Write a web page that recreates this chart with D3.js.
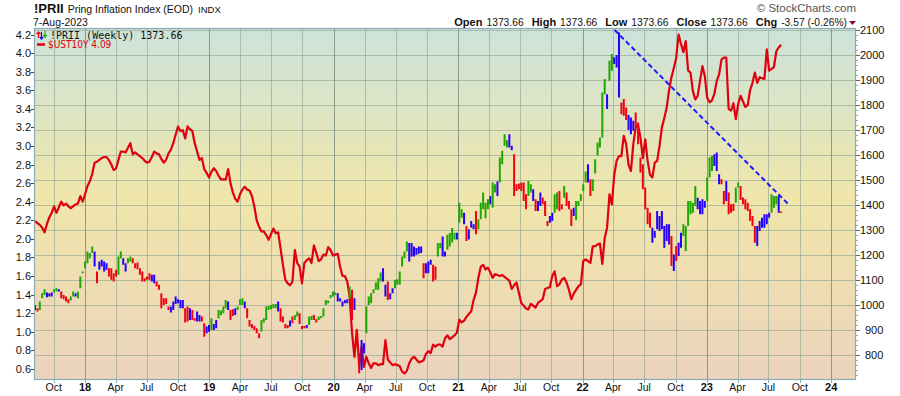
<!DOCTYPE html>
<html>
<head>
<meta charset="utf-8">
<script src="https://cdn.jsdelivr.net/npm/d3@7"></script>
<style>
  body { margin: 0; background: #fff; }
  svg { display: block; font-family: "Liberation Sans", Arial, sans-serif; }
</style>
</head>
<body>
<svg id="chart" width="900" height="396"></svg>
<script>
// weekly bars of !PRII, first week below, one entry per week
const firstWeek = "2017-08-07";
const prLo = [
  980,974,980,1027,1040,1031,1034,1034,1050,1054,
  1054,1027,1023,1014,1007,1018,1034,1034,1027,1067,
  1127,1147,1167,1187,1208,1154,1087,1141,1154,1134,
  1141,1114,1101,1094,1114,1121,1187,1161,1134,1167,
  1174,1167,1147,1143,1121,1094,1094,1101,1101,1094,
  1087,1074,1061,987,1000,1004,980,970,980,1004,
  1007,987,987,930,934,940,940,937,934,934,
  934,873,887,893,900,900,907,947,960,967,
  987,980,940,956,960,980,1000,1000,987,947,
  914,907,900,887,867,894,930,940,980,983,
  987,987,974,934,930,907,907,914,927,940,
  954,924,903,907,907,920,940,940,930,940,
  947,954,1000,1007,1027,1034,1040,1014,1014,994,
  1007,1007,1027,940,980,860,727,740,807,887,
  1000,1007,1047,1061,1061,1094,1094,1034,1020,1023,
  1047,1067,1081,1081,1154,1187,1214,1174,1194,1194,
  1201,1205,1208,1107,1127,1127,1161,1094,1101,1194,
  1227,1194,1194,1221,1234,1250,1262,1262,1329,1349,
  1323,1256,1262,1309,1303,1283,1303,1343,1383,1347,
  1383,1403,1389,1450,1436,1490,1563,1637,1630,1630,
  1619,1436,1456,1463,1456,1416,1383,1436,1450,1416,
  1376,1376,1396,1403,1356,1316,1329,1336,1369,1383,
  1376,1383,1429,1396,1383,1316,1356,1339,1396,1416,
  1456,1490,1490,1436,1456,1526,1597,1630,1670,1843,
  1784,1897,1937,1964,1950,1830,1763,1757,1740,1700,
  1683,1697,1710,1643,1530,1463,1383,1323,1309,1249,
  1269,1303,1296,1303,1229,1256,1242,1156,1136,1176,
  1196,1229,1276,1216,1316,1363,1369,1396,1383,1363,
  1363,1389,1416,1510,1536,1556,1536,1483,1483,1403,
  1416,1363,1369,1376,1409,1470,1420,1403,1383,1376,
  1336,1316,1249,1236,1296,1309,1309,1323,1349,1369,
  1389,1403,1369,1373
];
const prHi = [
  1000,987,1014,1047,1063,1050,1047,1050,1063,1067,
  1063,1054,1040,1034,1023,1034,1054,1047,1054,1114,
  1134,1174,1214,1208,1234,1214,1134,1174,1181,1174,
  1167,1147,1147,1127,1141,1194,1214,1187,1167,1187,
  1194,1187,1167,1170,1147,1134,1107,1114,1127,1121,
  1121,1094,1081,1047,1027,1027,994,994,1014,1034,
  1023,1020,1020,987,994,987,980,947,974,960,
  954,927,914,920,947,924,940,980,978,994,
  1020,1014,980,983,987,994,1023,1027,1014,987,
  940,924,916,907,887,940,947,994,996,1000,
  1004,1004,1014,987,954,924,920,938,954,960,
  974,967,916,916,920,954,956,960,943,954,
  956,987,1020,1018,1040,1054,1050,1047,1027,1014,
  1020,1023,1074,1061,1027,900,793,860,847,994,
  1034,1047,1063,1090,1107,1130,1147,1081,1094,1047,
  1067,1101,1103,1134,1194,1214,1254,1248,1248,1234,
  1228,1234,1234,1167,1167,1174,1181,1161,1154,1248,
  1248,1274,1214,1281,1288,1308,1289,1289,1409,1383,
  1369,1316,1303,1336,1323,1376,1343,1409,1450,1409,
  1423,1436,1490,1483,1494,1590,1617,1683,1659,1683,
  1637,1603,1483,1486,1490,1490,1443,1496,1483,1463,
  1423,1416,1450,1430,1416,1336,1356,1369,1443,1450,
  1456,1403,1476,1450,1416,1383,1389,1416,1416,1443,
  1483,1534,1563,1503,1503,1583,1650,1670,1850,1904,
  1843,1977,2004,1991,2000,2090,1810,1824,1790,1760,
  1750,1737,1770,1730,1590,1563,1470,1389,1369,1309,
  1296,1376,1356,1376,1316,1323,1323,1276,1202,1236,
  1249,1289,1323,1316,1416,1416,1409,1476,1429,1416,
  1423,1416,1510,1590,1597,1603,1610,1523,1503,1456,
  1496,1450,1403,1405,1470,1490,1476,1430,1423,1409,
  1383,1356,1316,1316,1336,1349,1363,1363,1369,1443,
  1436,1436,1436,1374
];
// G = green, R = red, B = blue (one letter per week)
const prColor =
  "BRGGGBBBGG" + "BRRRRGGBGG" + "GGGGGBRBBB" + "BRRRRGGBBG" + "GRRRRRRRRB" +
  "BRRRRRRBBB" + "BBBRRBRRBB" + "RRBBGBBGGG" + "GBRRBGGGBR" + "RRRRRGGGGG" +
  "GGBRRRRBRG" + "GRRRBGGRRG" + "GGGGGGGBBB" + "BBGRBRRBBG" + "GGGGGGBBRB" +
  "BGGGGGGBBB" + "BBBRBBBRRG" + "GBBGGGGBGG" + "BRBBBRGGGG" + "GBGGBGGGGB" +
  "BRRRRRRGGB" + "RBBRRRBBGG" + "RRGRRRBGGG" + "GGBRGGGGGG" + "BGGBBBRRRB" +
  "BBRRRRRRRB" + "BBBBBBBRBR" + "BBGGGGGGBB" + "BBGGGBBBRR" + "BRRRGGRRRR" +
  "RRRBBBBBBG" + "GGBR";

// $UST10Y, same weeks
const ust = [
  2.19,2.17,2.15,2.12,2.07,2.16,2.23,2.28,2.35,2.28,
  2.34,2.40,2.36,2.38,2.35,2.33,2.35,2.37,2.38,2.46,
  2.40,2.48,2.57,2.62,2.70,2.82,2.83,2.85,2.87,2.88,
  2.88,2.85,2.80,2.74,2.76,2.85,2.94,2.94,2.93,2.98,
  3.03,2.91,2.93,2.91,2.89,2.87,2.84,2.82,2.83,2.88,
  2.94,2.92,2.91,2.86,2.82,2.85,2.92,2.96,3.03,3.12,
  3.21,3.16,3.17,3.08,3.21,3.18,3.16,3.03,2.94,2.85,
  2.87,2.75,2.71,2.66,2.72,2.76,2.73,2.68,2.64,2.64,
  2.64,2.75,2.60,2.50,2.43,2.40,2.48,2.53,2.56,2.53,
  2.52,2.46,2.35,2.20,2.13,2.08,2.08,2.04,1.99,2.05,
  2.11,2.06,2.07,1.90,1.72,1.56,1.52,1.50,1.54,1.88,
  1.74,1.70,1.52,1.74,1.77,1.79,1.74,1.93,1.85,1.76,
  1.78,1.83,1.82,1.91,1.88,1.82,1.83,1.84,1.70,1.60,
  1.60,1.54,1.38,0.99,0.73,1.02,0.63,0.84,0.62,0.73,
  0.66,0.61,0.66,0.66,0.64,0.65,0.65,0.91,0.70,0.67,
  0.64,0.65,0.64,0.63,0.57,0.55,0.58,0.66,0.71,0.73,
  0.70,0.67,0.68,0.69,0.76,0.79,0.77,0.86,0.84,0.86,
  0.86,0.84,0.93,0.96,0.92,0.94,0.96,0.99,1.13,1.10,
  1.12,1.16,1.19,1.22,1.34,1.42,1.58,1.70,1.72,1.67,
  1.69,1.64,1.58,1.62,1.61,1.60,1.61,1.59,1.57,1.55,
  1.46,1.50,1.53,1.42,1.31,1.28,1.25,1.24,1.30,1.28,
  1.26,1.31,1.33,1.35,1.46,1.47,1.48,1.60,1.65,1.49,
  1.51,1.56,1.58,1.53,1.45,1.35,1.41,1.45,1.49,1.51,
  1.76,1.78,1.76,1.74,1.92,1.92,1.94,1.95,1.73,2.01,
  2.12,2.48,2.37,2.69,2.84,2.89,2.89,3.11,3.02,2.80,
  2.73,3.02,3.20,3.23,3.09,2.87,3.07,2.84,2.69,2.66,
  2.82,2.84,3.00,3.20,3.30,3.41,3.60,3.74,3.84,3.95,
  4.20,4.10,4.01,4.13,3.81,3.79,3.59,3.50,3.54,3.70,
  3.86,3.75,3.52,3.47,3.49,3.56,3.70,3.77,3.93,3.95,
  3.95,3.40,3.38,3.46,3.29,3.45,3.54,3.48,3.42,3.44,
  3.60,3.68,3.79,3.68,3.74,3.73,3.72,4.04,3.81,3.83,
  3.85,4.02,4.06,4.09
];

// dashed trend line on !PRII
const trendDates = ["2022-04-05", "2023-08-27"];
const trendValues = [2100, 1405];

const rightTicks = [800, 900, 1000, 1100, 1200, 1300, 1400, 1500, 1600, 1700, 1800, 1900, 2000, 2100];
const leftTicks = [0.6, 0.8, 1.0, 1.2, 1.4, 1.6, 1.8, 2.0, 2.2, 2.4, 2.6, 2.8, 3.0, 3.2, 3.4, 3.6, 3.8, 4.0, 4.2];
const xTickStart = "2017-10-01";
const xTickLabels = ["Oct","18","Apr","Jul","Oct","19","Apr","Jul","Oct","20","Apr","Jul","Oct",
                     "21","Apr","Jul","Oct","22","Apr","Jul","Oct","23","Apr","Jul","Oct","24"];

const parse = d3.timeParse("%Y-%m-%d");
const svg = d3.select("#chart");

const L = 34, R = 856, T = 28, B = 380;

const x = d3.scaleTime()
    .domain([parse("2017-08-04"), parse("2024-03-14")])
    .range([L, R]);
const yR = d3.scaleLinear().domain([700, 2108]).range([B, T]);
const yL = d3.scaleLinear().domain([0.48, 4.27]).range([B, T]);

const week0 = parse(firstWeek);
const weekDate = i => d3.timeWeek.offset(week0, i);

// background gradient
const defs = svg.append("defs");
const grad = defs.append("linearGradient")
    .attr("id", "bg").attr("x1", 0).attr("y1", 0).attr("x2", 0).attr("y2", 1);
grad.append("stop").attr("offset", "0%").attr("stop-color", "#cce3db");
grad.append("stop").attr("offset", "48%").attr("stop-color", "#f0e6aa");
grad.append("stop").attr("offset", "100%").attr("stop-color", "#ecd3bd");

svg.append("rect")
    .attr("x", L).attr("y", T)
    .attr("width", R - L).attr("height", B - T)
    .attr("fill", "url(#bg)");

// grid
const xTicks = xTickLabels.map((lab, i) => ({ date: d3.timeMonth.offset(parse(xTickStart), 3 * i), lab }));

svg.append("g").selectAll("line")
    .data(rightTicks)
    .join("line")
    .attr("x1", L).attr("x2", R)
    .attr("y1", d => Math.round(yR(d)) + 0.5).attr("y2", d => Math.round(yR(d)) + 0.5)
    .attr("stroke", "#9aa996").attr("stroke-opacity", 0.7).attr("stroke-width", 1);

svg.append("g").selectAll("line")
    .data(xTicks)
    .join("line")
    .attr("x1", d => Math.round(x(d.date)) + 0.5).attr("x2", d => Math.round(x(d.date)) + 0.5)
    .attr("y1", T).attr("y2", B)
    .attr("stroke", d => /^\d/.test(d.lab) ? "#7f9481" : "#9aa996")
    .attr("stroke-opacity", d => /^\d/.test(d.lab) ? 0.9 : 0.7)
    .attr("stroke-width", 1);

// $UST10Y line
const ustLine = d3.line()
    .x((d, i) => x(weekDate(i)))
    .y(d => yL(d));

svg.append("path")
    .datum(ust)
    .attr("d", ustLine)
    .attr("fill", "none")
    .attr("stroke", "#e0000e")
    .attr("stroke-width", 2.2)
    .attr("stroke-linejoin", "round");

// !PRII weekly bars
const barColor = { G: "#1ca800", R: "#f5000f", B: "#2400ff" };
svg.append("g").selectAll("rect")
    .data(prLo.map((lo, i) => ({ i, lo, hi: prHi[i], c: prColor[i] })))
    .join("rect")
    .attr("x", d => x(weekDate(d.i)) - 1)
    .attr("width", 2)
    .attr("y", d => yR(d.hi))
    .attr("height", d => Math.max(1.5, yR(d.lo) - yR(d.hi)))
    .attr("fill", d => barColor[d.c]);

// trend line
svg.append("line")
    .attr("x1", x(parse(trendDates[0]))).attr("y1", yR(trendValues[0]))
    .attr("x2", x(parse(trendDates[1]))).attr("y2", yR(trendValues[1]))
    .attr("stroke", "#1a1aff")
    .attr("stroke-width", 2)
    .attr("stroke-dasharray", "5,3");

// frame
svg.append("rect")
    .attr("x", L + 0.5).attr("y", T + 0.5)
    .attr("width", R - L - 1).attr("height", B - T - 1)
    .attr("fill", "none")
    .attr("stroke", "#8aaab2")
    .attr("stroke-width", 1.2);

// right axis
const gR = svg.append("g");
gR.selectAll("line.minor")
    .data(d3.range(720, 2101, 20))
    .join("line")
    .attr("x1", R).attr("x2", R + 2)
    .attr("y1", d => Math.round(yR(d)) + 0.5).attr("y2", d => Math.round(yR(d)) + 0.5)
    .attr("stroke", "#8aaab2");
gR.selectAll("line.major")
    .data(rightTicks)
    .join("line")
    .attr("x1", R).attr("x2", R + 4)
    .attr("y1", d => Math.round(yR(d)) + 0.5).attr("y2", d => Math.round(yR(d)) + 0.5)
    .attr("stroke", "#666");
gR.selectAll("text")
    .data(rightTicks)
    .join("text")
    .attr("x", d => d < 1000 ? 865 : 860)
    .attr("y", d => yR(d) + 4)
    .attr("font-size", 11)
    .attr("fill", "#111")
    .text(d => d);

// left axis
const gL = svg.append("g");
gL.selectAll("line")
    .data(leftTicks)
    .join("line")
    .attr("x1", L - 3).attr("x2", L)
    .attr("y1", d => Math.round(yL(d)) + 0.5).attr("y2", d => Math.round(yL(d)) + 0.5)
    .attr("stroke", "#444");
gL.selectAll("text")
    .data(leftTicks)
    .join("text")
    .attr("x", L - 3)
    .attr("y", d => yL(d) + 4)
    .attr("text-anchor", "end")
    .attr("font-size", 11)
    .attr("fill", "#111")
    .text(d => d.toFixed(1));

// bottom axis
const gB = svg.append("g");
gB.selectAll("line")
    .data(xTicks)
    .join("line")
    .attr("x1", d => Math.round(x(d.date)) + 0.5).attr("x2", d => Math.round(x(d.date)) + 0.5)
    .attr("y1", B).attr("y2", B + 3)
    .attr("stroke", "#8aaab2");
gB.selectAll("text")
    .data(xTicks)
    .join("text")
    .attr("x", d => x(d.date))
    .attr("y", 391)
    .attr("text-anchor", "middle")
    .attr("font-size", d => /^\d/.test(d.lab) ? 11 : 10.5)
    .attr("font-weight", d => /^\d/.test(d.lab) ? "bold" : "normal")
    .attr("fill", "#111")
    .text(d => d.lab);

// header
const title = svg.append("text").attr("x", 34).attr("y", 13).attr("fill", "#111");
title.append("tspan").attr("font-size", 13).attr("font-weight", "bold").text("!PRII");
title.append("tspan").attr("font-size", 10.5).attr("dx", 4).text("Pring Inflation Index (EOD)");
title.append("tspan").attr("font-size", 9.5).attr("dx", 5).text("INDX");

svg.append("text").attr("x", 33).attr("y", 26)
    .attr("font-size", 10.5).attr("fill", "#111").text("7-Aug-2023");

svg.append("text").attr("x", 856).attr("y", 12)
    .attr("text-anchor", "end").attr("font-size", 11.5).attr("fill", "#555")
    .text("\u00a9 StockCharts.com");

const quote = [["Open", "1373.66"], ["High", "1373.66"], ["Low", "1373.66"], ["Close", "1373.66"], ["Chg", "-3.57 (-0.26%)"]];
const qt = svg.append("text").attr("x", 847).attr("y", 26)
    .attr("text-anchor", "end").attr("fill", "#111");
quote.forEach(([k, v], i) => {
    qt.append("tspan").attr("font-weight", "bold").attr("font-size", 11).attr("dx", i ? 8 : 0).text(k);
    qt.append("tspan").attr("font-size", 10.3).attr("dx", 4).text(v);
});
svg.append("path")
    .attr("d", "M849,21 L856,21 L852.5,25 Z")
    .attr("fill", "#8b0a2a");

// legend
const lg = svg.append("g");
lg.append("path").attr("d", "M38.5,32 V38 M36.5,34 L38.5,32 L40.5,34").attr("stroke", "#f5000f").attr("stroke-width", 1.2).attr("fill", "none");
lg.append("path").attr("d", "M41.5,32 V39 M39.8,37 L41.5,39 L43.2,37").attr("stroke", "#2400ff").attr("stroke-width", 1.2).attr("fill", "none");
lg.append("path").attr("d", "M45,31 V37 M43.3,35 L45,37 L46.7,35").attr("stroke", "#1ca800").attr("stroke-width", 1.2).attr("fill", "none");
lg.append("text").attr("x", 50).attr("y", 38.5)
    .attr("font-family", "'DejaVu Sans Mono', monospace").attr("font-size", 10)
    .attr("fill", "#111").text("!PRII (Weekly) 1373.66");
lg.append("line").attr("x1", 37).attr("x2", 45).attr("y1", 44.5).attr("y2", 44.5)
    .attr("stroke", "#e0000e").attr("stroke-width", 2.5);
lg.append("text").attr("x", 48).attr("y", 48)
    .attr("font-family", "'DejaVu Sans Condensed', sans-serif").attr("font-size", 10)
    .attr("fill", "#e0000e").text("$UST10Y 4.09");
</script>
</body>
</html>
